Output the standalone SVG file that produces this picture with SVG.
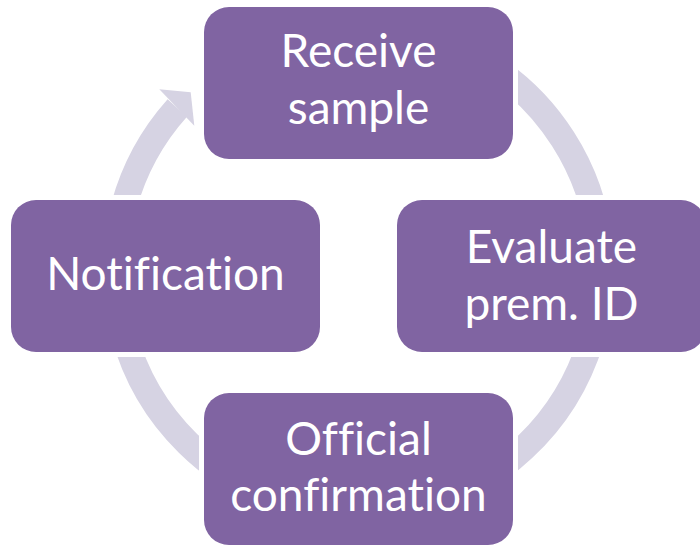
<svg xmlns="http://www.w3.org/2000/svg" width="700" height="545" viewBox="0 0 700 545">
  <style>
    .halo { fill: #FFFFFF; }
    .box { fill: #8064A2; }
    .lbl { fill: #FFFFFF; font-family: Lato, "Liberation Sans", sans-serif; font-size: 46px; text-anchor: middle; font-variant-ligatures: none; font-feature-settings: "liga" 0; }
    .ring { fill: none; stroke: #D6D3E3; stroke-width: 26; }
    .head { fill: #D6D3E3; }
  </style>
  <rect width="700" height="545" fill="#FFFFFF"/>
  <g id="connectors">
    <path class="ring" d="M 237 59.56 A 243 243 0 1 1 177.3 108"/>
    <polygon class="head" points="159.3,89.3 190.7,92.3 194.3,125.7"/>
  </g>
  <g id="node-receive">
    <rect class="halo" x="199" y="2" width="319" height="162" rx="30"/>
    <rect class="box" x="204" y="7" width="309" height="152" rx="25"/>
    <text class="lbl" x="358.5" y="67">Receive</text>
    <text class="lbl" x="358.5" y="124">sample</text>
  </g>
  <g id="node-evaluate">
    <rect class="halo" x="392" y="195" width="319" height="162" rx="30"/>
    <rect class="box" x="397" y="200" width="309" height="152" rx="25"/>
    <text class="lbl" x="551.5" y="263">Evaluate</text>
    <text class="lbl" x="551.5" y="320">prem. ID</text>
  </g>
  <g id="node-official">
    <rect class="halo" x="199" y="388" width="319" height="162" rx="30"/>
    <rect class="box" x="204" y="393" width="309" height="152" rx="25"/>
    <text class="lbl" x="358.5" y="455">Official</text>
    <text class="lbl" x="358.5" y="511">confirmation</text>
  </g>
  <g id="node-notification">
    <rect class="halo" x="6" y="195" width="319" height="162" rx="30"/>
    <rect class="box" x="11" y="200" width="309" height="152" rx="25"/>
    <text class="lbl" x="165.5" y="290">Notification</text>
  </g>
</svg>
